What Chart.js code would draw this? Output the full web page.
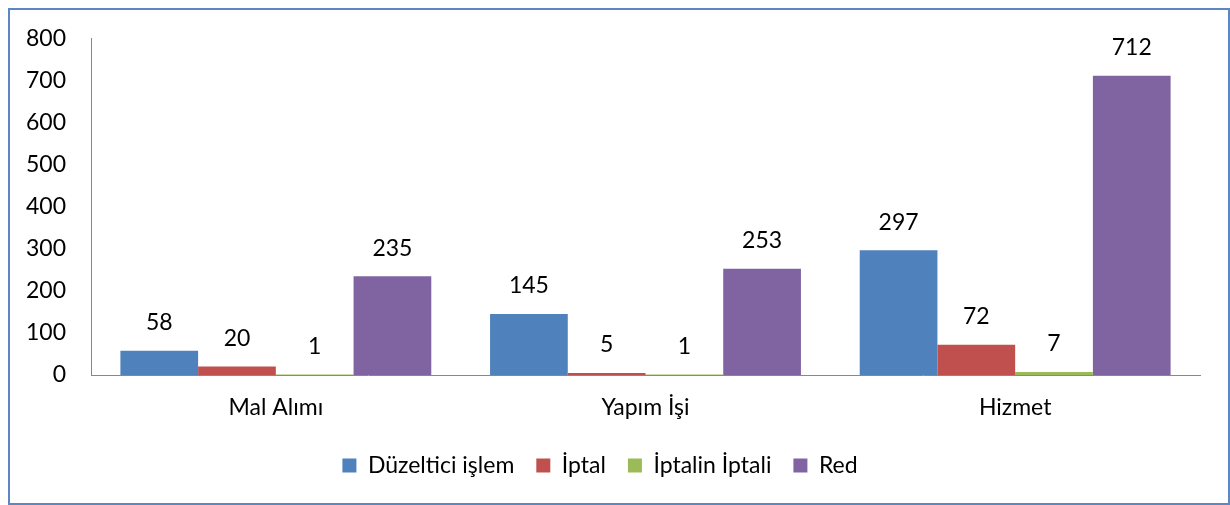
<!DOCTYPE html>
<html>
<head>
<meta charset="utf-8">
<script src="https://cdn.jsdelivr.net/npm/chart.js@4"></script>
<style>
  body { margin: 0; background: #fff; }
  #frame {
    position: absolute; left: 8px; top: 8px;
    width: 1218px; height: 493px;
    border: 2px solid #5b87c4;
  }
  #wrap { position: absolute; left: 0; top: 0; width: 1230px; height: 505px; }
</style>
</head>
<body>
<div id="frame"></div>
<div id="wrap"><canvas id="chart"></canvas></div>
<script>
// categories and series
const categories = ['Mal Alımı', 'Yapım İşi', 'Hizmet'];
const seriesNames = ['Düzeltici işlem', 'İptal', 'İptalin İptali', 'Red'];
const duzeltici = [58, 145, 297];
const iptal = [20, 5, 72];
const iptalinIptali = [1, 1, 7];
const red = [235, 253, 712];
const colors = ['#4f81bd', '#c0504d', '#9bbb59', '#8064a2'];

const FONT = 'Lato';

// draws the value above each bar
const valueLabels = {
  id: 'valueLabels',
  afterDatasetsDraw(chart) {
    const ctx = chart.ctx;
    ctx.save();
    ctx.font = '23px ' + FONT;
    ctx.fillStyle = '#000';
    ctx.textAlign = 'center';
    ctx.textBaseline = 'middle';
    chart.data.datasets.forEach((ds, i) => {
      chart.getDatasetMeta(i).data.forEach((bar, j) => {
        ctx.fillText(ds.data[j], bar.x, bar.y - 28);
      });
    });
    ctx.restore();
  }
};

const allData = [duzeltici, iptal, iptalinIptali, red];

new Chart(document.getElementById('chart'), {
  type: 'bar',
  data: {
    labels: categories,
    datasets: seriesNames.map((name, i) => ({
      label: name,
      data: allData[i],
      backgroundColor: colors[i],
      borderWidth: 0
    }))
  },
  options: {
    responsive: true,
    maintainAspectRatio: false,
    animation: false,
    layout: { padding: { top: 38, right: 30, bottom: 18, left: 0 } },
    datasets: { bar: { categoryPercentage: 0.841, barPercentage: 1 } },
    scales: {
      x: {
        grid: { display: false, drawTicks: false },
        border: { color: '#888', width: 1 },
        ticks: { color: '#000', font: { family: FONT, size: 23 }, padding: 19 },
        afterFit(scale) { scale.height = 57; }
      },
      y: {
        min: 0, max: 800,
        grid: { display: false, drawTicks: false },
        border: { color: '#888', width: 1 },
        ticks: { stepSize: 100, color: '#000', font: { family: FONT, size: 23 }, padding: 25 },
        afterFit(scale) { scale.width = 91; }
      }
    },
    plugins: {
      legend: {
        position: 'bottom',
        labels: {
          color: '#000',
          font: { family: FONT, size: 23 },
          boxWidth: 14, boxHeight: 14,
          padding: 22
        }
      },
      tooltip: { enabled: false }
    }
  },
  plugins: [valueLabels]
});
</script>
</body>
</html>
